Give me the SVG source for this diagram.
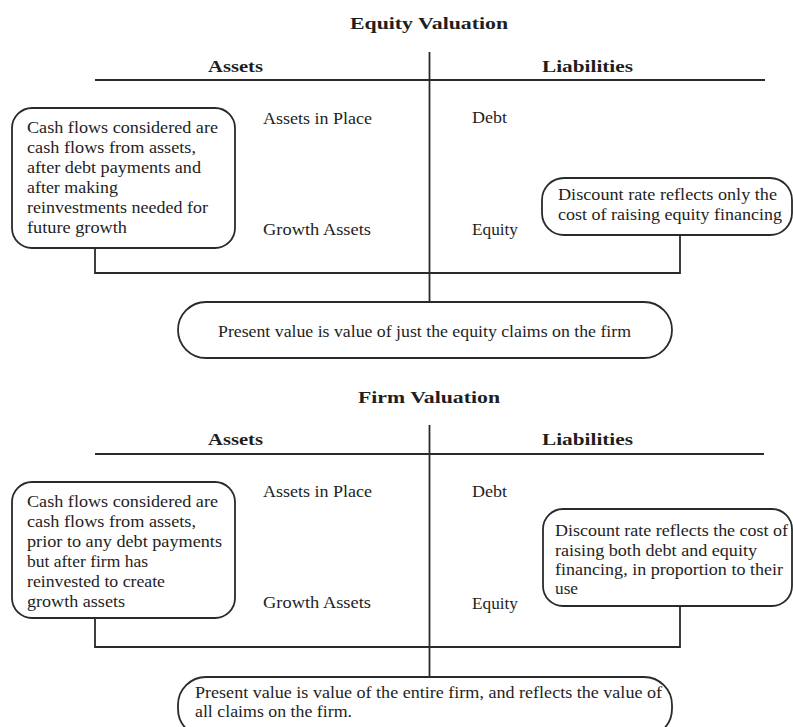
<svg xmlns="http://www.w3.org/2000/svg" width="793" height="727" viewBox="0 0 793 727">
<style>
text{font-family:"Liberation Serif","Times New Roman",serif;fill:#1e1e1e;font-size:16.5px}
.h{font-weight:bold;font-size:17px}
.t{font-weight:bold;font-size:17.5px}
.ln{stroke:#2a2a2a;stroke-width:1.8;fill:none}
.box{stroke:#2a2a2a;stroke-width:1.8;fill:#fff}
</style>
<rect width="793" height="727" fill="#fff"/>

<!-- Equity Valuation -->
<g id="equity-frame">
<text class="t" x="350" y="29" textLength="158" lengthAdjust="spacingAndGlyphs">Equity Valuation</text>
<text class="h" x="208" y="72" textLength="55" lengthAdjust="spacingAndGlyphs">Assets</text>
<text class="h" x="542" y="72" textLength="91" lengthAdjust="spacingAndGlyphs">Liabilities</text>
<line class="ln" x1="95" y1="80" x2="765" y2="80"/>
<line class="ln" x1="429.5" y1="52" x2="429.5" y2="302"/>
<text x="263" y="124" textLength="109" lengthAdjust="spacingAndGlyphs">Assets in Place</text>
<text x="263" y="235" textLength="108" lengthAdjust="spacingAndGlyphs">Growth Assets</text>
<text x="472" y="123" textLength="35" lengthAdjust="spacingAndGlyphs">Debt</text>
<text x="472" y="235" textLength="46" lengthAdjust="spacingAndGlyphs">Equity</text>
</g>
<g id="equity-cashflows">
<rect class="box" x="12" y="108" width="223" height="140" rx="20"/>
<text x="27" y="133" textLength="191" lengthAdjust="spacingAndGlyphs">Cash flows considered are</text>
<text x="27" y="153" textLength="169" lengthAdjust="spacingAndGlyphs">cash flows from assets,</text>
<text x="27" y="173" textLength="174" lengthAdjust="spacingAndGlyphs">after debt payments and</text>
<text x="27" y="193" textLength="91" lengthAdjust="spacingAndGlyphs">after making</text>
<text x="27" y="213" textLength="181" lengthAdjust="spacingAndGlyphs">reinvestments needed for</text>
<text x="27" y="233" textLength="100" lengthAdjust="spacingAndGlyphs">future growth</text>
</g>
<g id="equity-discount">
<rect class="box" x="542" y="178" width="250" height="57" rx="22"/>
<text x="558" y="200" textLength="219" lengthAdjust="spacingAndGlyphs">Discount rate reflects only the</text>
<text x="558" y="220" textLength="224" lengthAdjust="spacingAndGlyphs">cost of raising equity financing</text>
</g>
<g id="equity-pv">
<rect class="box" x="178" y="302" width="494" height="56" rx="28"/>
<text x="218" y="337" textLength="413" lengthAdjust="spacingAndGlyphs">Present value is value of just the equity claims on the firm</text>
</g>

<!-- Firm Valuation -->
<g id="firm-frame">
<text class="t" x="358" y="403" textLength="142" lengthAdjust="spacingAndGlyphs">Firm Valuation</text>
<text class="h" x="208" y="445" textLength="55" lengthAdjust="spacingAndGlyphs">Assets</text>
<text class="h" x="542" y="445" textLength="91" lengthAdjust="spacingAndGlyphs">Liabilities</text>
<line class="ln" x1="95" y1="454" x2="764" y2="454"/>
<line class="ln" x1="429.5" y1="425" x2="429.5" y2="677"/>
<text x="263" y="497" textLength="109" lengthAdjust="spacingAndGlyphs">Assets in Place</text>
<text x="263" y="608" textLength="108" lengthAdjust="spacingAndGlyphs">Growth Assets</text>
<text x="472" y="497" textLength="35" lengthAdjust="spacingAndGlyphs">Debt</text>
<text x="472" y="609" textLength="46" lengthAdjust="spacingAndGlyphs">Equity</text>
</g>
<g id="firm-cashflows">
<rect class="box" x="12" y="482" width="223" height="136" rx="20"/>
<text x="27" y="507" textLength="191" lengthAdjust="spacingAndGlyphs">Cash flows considered are</text>
<text x="27" y="527" textLength="169" lengthAdjust="spacingAndGlyphs">cash flows from assets,</text>
<text x="27" y="547" textLength="195" lengthAdjust="spacingAndGlyphs">prior to any debt payments</text>
<text x="27" y="567" textLength="121" lengthAdjust="spacingAndGlyphs">but after firm has</text>
<text x="27" y="587" textLength="138" lengthAdjust="spacingAndGlyphs">reinvested to create</text>
<text x="27" y="607" textLength="98" lengthAdjust="spacingAndGlyphs">growth assets</text>
</g>
<g id="firm-discount">
<rect class="box" x="543" y="509" width="249" height="97" rx="20"/>
<text x="555" y="536" textLength="233" lengthAdjust="spacingAndGlyphs">Discount rate reflects the cost of</text>
<text x="555" y="555.5" textLength="202" lengthAdjust="spacingAndGlyphs">raising both debt and equity</text>
<text x="555" y="575" textLength="228" lengthAdjust="spacingAndGlyphs">financing, in proportion to their</text>
<text x="555" y="594" textLength="23" lengthAdjust="spacingAndGlyphs">use</text>
</g>
<g id="firm-pv">
<rect class="box" x="178" y="677" width="494" height="60" rx="28"/>
<text x="195" y="698" textLength="467" lengthAdjust="spacingAndGlyphs">Present value is value of the entire firm, and reflects the value of</text>
<text x="195" y="717" textLength="157" lengthAdjust="spacingAndGlyphs">all claims on the firm.</text>
</g>

<g id="connectors">
<polyline class="ln" points="95,248 95,273 680,273 680,235"/>
<polyline class="ln" points="95,618 95,647 680,647 680,606"/>
</g>
</svg>
